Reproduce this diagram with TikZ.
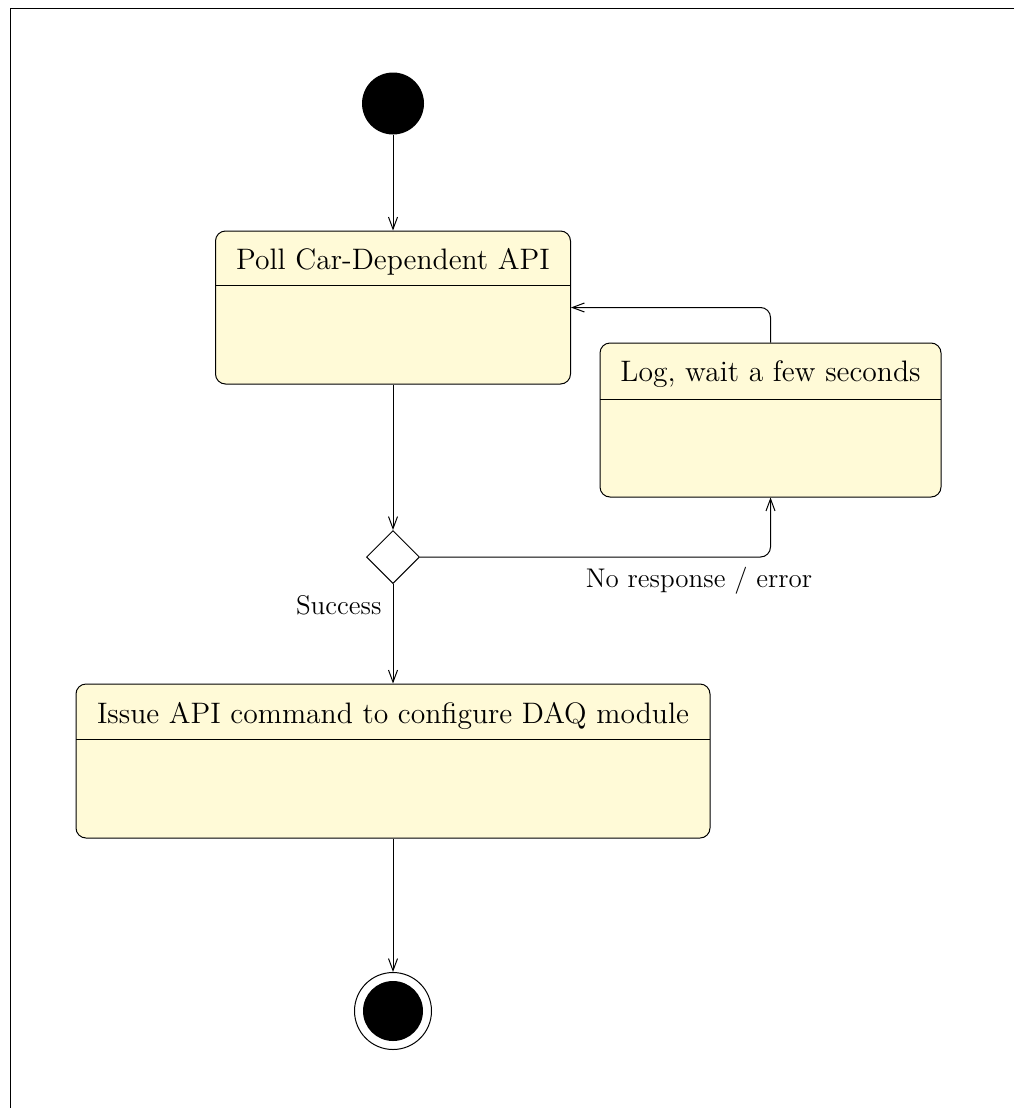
\documentclass[tikz,border=0pt]{standalone}
\usetikzlibrary{arrows.meta,shapes.geometric}
\definecolor{statefill}{RGB}{255,250,215}
\begin{document}
\begin{tikzpicture}[x=0.5pt,y=-0.5pt,
  every path/.style={line width=0.5pt},
  arr/.style={-{Straight Barb[length=6pt,width=4.5pt]}},
  statebox/.style={draw,fill=statefill,rounded corners=5pt,inner sep=0pt},
  title/.style={font=\fontsize{14.8pt}{17pt}\selectfont,inner sep=0pt,anchor=base},
  lbl/.style={font=\fontsize{13.5pt}{16pt}\selectfont,inner sep=0pt}]
\useasboundingbox (0,0) rectangle (1014,1108);
\draw[line width=0.5pt] (1014,8) -- (10,8) -- (10,1108);
% initial
\node[circle,fill=black,minimum size=31pt,inner sep=0pt] (init) at (393,103.5) {};
% box 1
\node[statebox,minimum width=177.5pt,minimum height=76.5pt] (b1) at (393,307.5) {};
\draw (215.5,285.5) -- (570.5,285.5);
\node[title] (t1) at (393,269) {Poll Car-Dependent API};
% box 2
\node[statebox,minimum width=170.5pt,minimum height=77pt] (b2) at (770.5,420) {};
\draw (600,399) -- (941,399);
\node[title] (t2) at (770.5,381) {Log, wait a few seconds};
% decision
\node[diamond,draw,aspect=1,minimum size=26.5pt,inner sep=0pt] (d) at (393,557) {};
% box 3
\node[statebox,minimum width=317pt,minimum height=77pt] (b3) at (393,761) {};
\draw (76,739) -- (710,739);
\node[title] (t3) at (393,723) {Issue API command to configure DAQ module};
% final
\node[circle,draw,minimum size=38.5pt,inner sep=0pt] (fin) at (393,1011) {};
\node[circle,fill=black,minimum size=30pt,inner sep=0pt] (finin) at (393,1011) {};
% connectors
\draw[arr] (init) -- (b1);
\draw[arr] (b1) -- (d);
\draw[arr,rounded corners=5pt] (d.east) -| (b2.south);
\draw[arr,rounded corners=5pt] (b2.north) |- (b1.east);
\draw[arr] (d) -- (b3);
\draw[arr] (b3) -- (fin);
% labels
\node[lbl,anchor=east] (ls) at (382,605) {Success};
\node[lbl] (le) at (699,581) {No response / error};
\end{tikzpicture}
\end{document}
